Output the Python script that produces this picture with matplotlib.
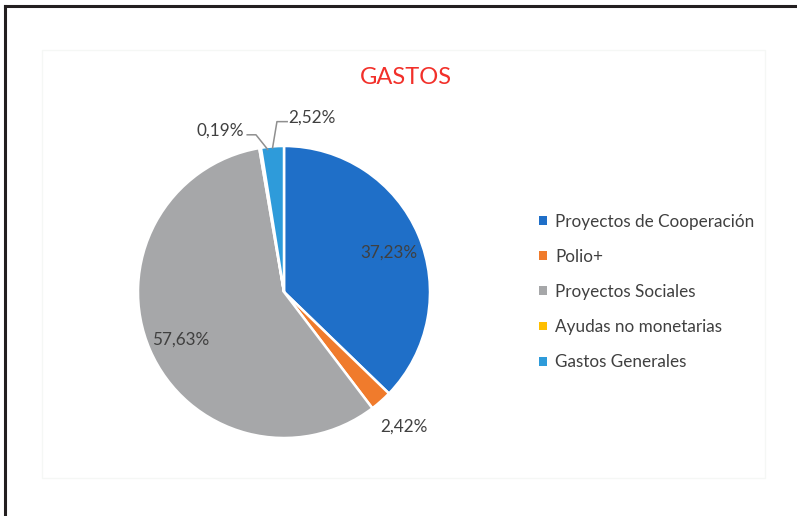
import numpy as np
import matplotlib.pyplot as plt
from matplotlib.patches import Patch, Rectangle

plt.rcParams['font.family'] = ['Lato', 'DejaVu Sans']

categorias = ['Proyectos de Cooperación', 'Polio+', 'Proyectos Sociales',
              'Ayudas no monetarias', 'Gastos Generales']
valores = [37.23, 2.42, 57.63, 0.19, 2.52]
etiquetas = ['37,23%', '2,42%', '57,63%', '0,19%', '2,52%']
colores = ['#1F6FC8', '#F07B2C', '#A6A7A9', '#FFBF00', '#2E9BDA']

fig = plt.figure(figsize=(7.97, 5.16), dpi=100)
fig.patch.set_facecolor('white')

# frame of the scanned page (cut at right and bottom)
fig.add_artist(plt.Line2D([5/797, 5/797], [0, 1 - 6/516], color='#231f20', lw=2.2))
fig.add_artist(plt.Line2D([5/797, 1], [1 - 6/516, 1 - 6/516], color='#231f20', lw=2.2))
# faint chart area
fig.add_artist(Rectangle((42/797, 1 - 478/516), 723/797, 428/516, fill=False,
                         ec='#f5f7f5', lw=1))

fig.text(406/797, 1 - 78/516, 'GASTOS', color='#F2302A', fontsize=17,
         ha='center', va='center')

ax = fig.add_axes([(284 - 146)/797, 1 - (292 + 146)/516, 292/797, 292/516])
wedges, _ = ax.pie(valores, colors=colores, startangle=90, counterclock=False,
                   wedgeprops=dict(edgecolor='white', linewidth=1.8))
ax.set_xlim(-1, 1)
ax.set_ylim(-1, 1)
ax.set_aspect('equal')
ax.axis('off')

def mid(w):
    a = np.deg2rad((w.theta1 + w.theta2) / 2)
    return np.cos(a), np.sin(a)

tc = '#404040'
fs = 12.3
# inside labels
x, y = mid(wedges[0])
ax.text(x*0.78, y*0.78 - 0.035, etiquetas[0], ha='center', va='center', fontsize=fs, color=tc)
x, y = mid(wedges[2])
ax.text(x*0.77, y*0.77 - 0.02, etiquetas[2], ha='center', va='center', fontsize=fs, color=tc)
# Polio+ outside
x, y = mid(wedges[1])
ax.text(x*1.19 + 0.03, y*1.19 - 0.03, etiquetas[1], ha='center', va='center',
        fontsize=fs, color=tc)

# small slices with leader lines
x, y = mid(wedges[3])
ax.plot([x*0.99 + 0.05, x*0.99 - 0.03, x*0.99 - 0.09], [y*0.99, y*0.99 + 0.1, y*0.99 + 0.1],
        color='#8f8f8f', lw=1.1, clip_on=False)
ax.text(x*0.99 - 0.11, y*0.99 + 0.13, etiquetas[3], ha='right', va='center',
        fontsize=fs, color=tc)
x, y = mid(wedges[4])
ax.plot([x*0.99, x*0.99 + 0.03, x*0.99 + 0.10], [y*0.99, y*0.99 + 0.18, y*0.99 + 0.18],
        color='#8f8f8f', lw=1.1, clip_on=False)
ax.text(x*0.99 + 0.11, y*0.99 + 0.205, etiquetas[4], ha='left', va='center',
        fontsize=fs, color=tc)

handles = [Patch(facecolor=c, edgecolor='none') for c in colores]
fig.legend(handles, categorias, loc='center left',
           bbox_to_anchor=(524/797, 1 - 292/516), frameon=False, fontsize=fs,
           handlelength=0.42, handleheight=0.42, handletextpad=0.5,
           labelspacing=1.12, labelcolor=tc)

fig.savefig('out.png', dpi=100)
